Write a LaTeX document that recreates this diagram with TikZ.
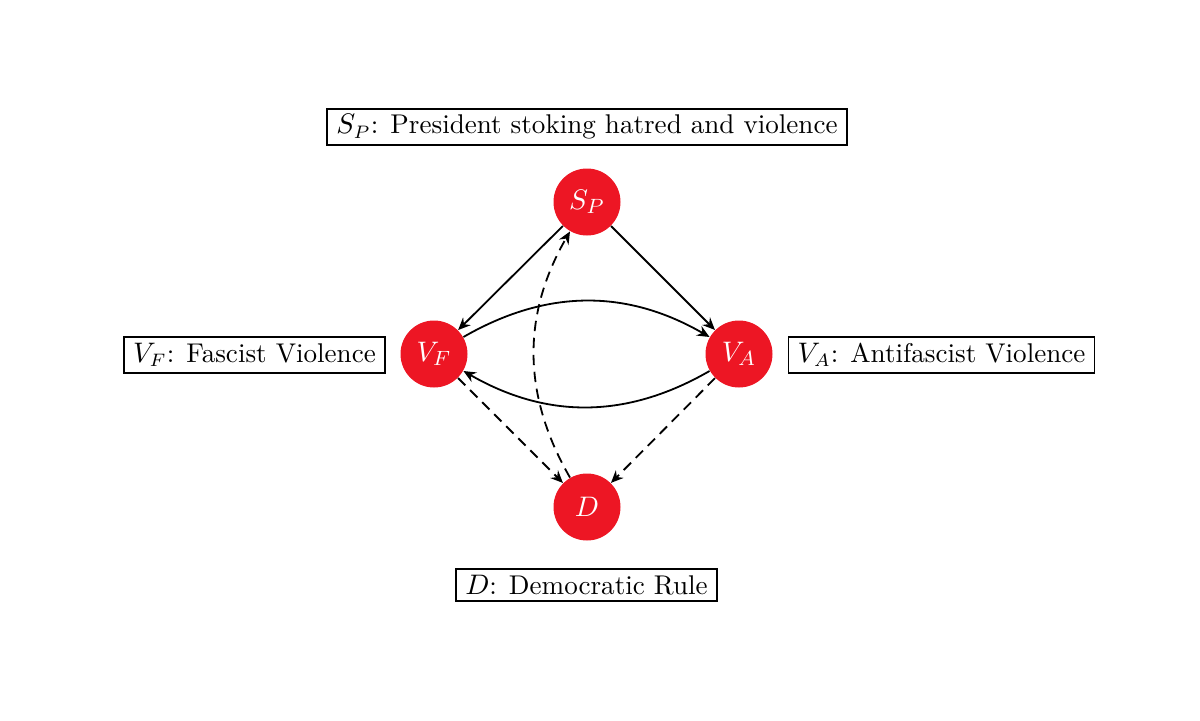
\documentclass[tikz,border=0pt]{standalone}
\usetikzlibrary{arrows.meta}
\definecolor{nodered}{RGB}{237,22,36}
\begin{document}
\begin{tikzpicture}[x=0.3876pt,y=-0.3876pt,
  vnode/.style={circle,fill=nodered,minimum size=67*0.3876pt,inner sep=0pt,text=white,font=\fontsize{10.75}{13}\selectfont},
  lbox/.style={draw,line width=0.75pt,inner xsep=3.5pt,inner ysep=2.3pt,font=\fontsize{10.5}{13}\selectfont},
  arr/.style={line width=0.7pt,-{Stealth[length=4.8pt,width=4.2pt,inset=1.6pt]}},
  dsh/.style={arr,dash pattern=on 4pt off 2.6pt}]
\useasboundingbox (0,0) rectangle (1200,721);
\node[vnode] (sp) at (587,202) {$S_P$};
\node[vnode] (vf) at (434,354) {$V_F$};
\node[vnode] (va) at (739,354) {$V_A$};
\node[vnode] (d) at (587,507) {$D$};
\node[lbox] (lsp) at (587,127) {$S_P$: President stoking hatred and violence};
\node[lbox] (lvf) at (254.5,355) {$V_F$: Fascist Violence};
\node[lbox] (lva) at (941.5,355) {$V_A$: Antifascist Violence};
\node[lbox] (ld) at (586.5,585) {$D$: Democratic Rule};
\draw[arr] (sp) -- (vf);
\draw[arr] (sp) -- (va);
\draw[arr] (vf) to[bend left=30] (va);
\draw[arr] (va) to[bend left=30] (vf);
\draw[dsh] (vf) -- (d);
\draw[dsh] (va) -- (d);
\draw[dsh] (d) to[bend left=30] (sp);
\end{tikzpicture}
\end{document}
